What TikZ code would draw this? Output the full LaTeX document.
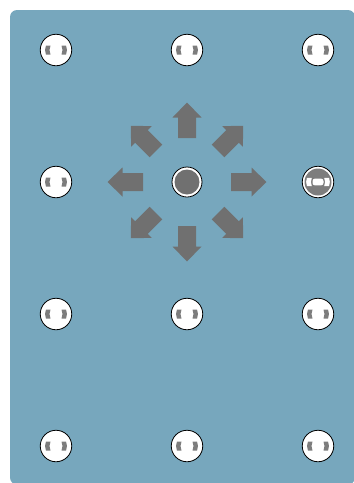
\documentclass[tikz,border=0pt]{standalone}
\usepackage{tikz}
\usetikzlibrary{positioning}
\definecolor{boardblue}{RGB}{119,167,189}
\definecolor{arrowgray}{RGB}{112,112,112}
\definecolor{pingray}{RGB}{125,125,125}

\begin{document}
\begin{tikzpicture}[
  x=1pt, y=-1pt,
  board/.style={fill=boardblue, rounded corners=7pt},
  socket/.style={circle, draw=black, line width=0.8pt, fill=white, minimum size=31.5pt, inner sep=0pt,
    path picture={\begin{scope}[shift={(path picture bounding box.center)}]
      \fill[pingray] (-5.5,-4.5) arc[start angle=205.06, end angle=154.94, radius=10.625]
        -- (-10.04,4.5) arc[start angle=155.9, end angle=204.1, radius=11] -- cycle;
      \fill[pingray] (5.5,-4.5) arc[start angle=-25.06, end angle=25.06, radius=10.625]
        -- (10.04,4.5) arc[start angle=24.1, end angle=-24.1, radius=11] -- cycle;
    \end{scope}}},
  socketon/.style={socket,
    path picture={\begin{scope}[shift={(path picture bounding box.center)}]
      \fill[pingray] (0,0) circle (13.5);
      \fill[white, rounded corners=2.5pt] (-5.5,-3.4) rectangle (5.5,3.4);
      \fill[white] (-6.2,-4) arc[start angle=205.06, end angle=154.94, radius=9.45]
        -- (-11.1,4) arc[start angle=159.2, end angle=200.8, radius=11.5] -- cycle;
      \fill[white] (6.2,-4) arc[start angle=-25.06, end angle=25.06, radius=9.45]
        -- (11.1,4) arc[start angle=20.8, end angle=-20.8, radius=11.5] -- cycle;
    \end{scope}}},
  hub/.style={circle, draw=black, line width=0.8pt, fill=white, minimum size=30pt, inner sep=0pt,
    path picture={\fill[arrowgray] (path picture bounding box.center) circle (12.5);}},
  push/.style={fill=arrowgray}
]
\useasboundingbox (0,0) rectangle (354,483);

%  : -- Board  : --
\fill[board] (10,10) rectangle (355,484.5);

%  : -- Sockets (four rows, three columns)  : --
\foreach \c/\x in {1/56, 2/187, 3/318} {
  \node[socket] (s\c-1) at (\x, 50) {};
  \node[socket] (s\c-3) at (\x, 314) {};
  \node[socket] (s\c-4) at (\x, 446) {};
}
\node[socket] (s1-2) at (56, 182) {};
\node[socketon] (s3-2) at (318, 182) {};

%  : -- Centre hub with eight push arrows  : --
\node[hub] (hub) at (187, 182) {};
\foreach \a in {0, 45, ..., 315} {
  \fill[push, shift={(hub.center)}, rotate=\a]
    (44,-9) -- (64.5,-9) -- (64.5,-14.5) -- (79.5,0) -- (64.5,14.5) -- (64.5,9) -- (44,9) -- cycle;
}

\end{tikzpicture}
\end{document}
